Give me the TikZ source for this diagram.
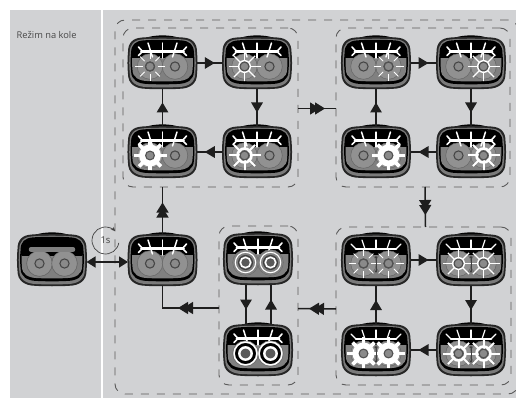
\documentclass[tikz,border=0pt]{standalone}
\usepackage{fontspec}
\setmainfont{Open Sans}
\usetikzlibrary{arrows.meta,decorations.markings}
\definecolor{panel}{HTML}{D1D2D4}
\definecolor{lampgray}{HTML}{808080}
\definecolor{lensgray}{HTML}{919191}
\definecolor{dashgray}{HTML}{5A5A5A}
\definecolor{inkdark}{HTML}{1E1E1E}
\tikzset{
  lampnode/.style={rectangle,minimum width=69pt,minimum height=52pt,inner sep=0pt,outer sep=0pt},
  framebox/.style={draw=dashgray,line width=.9pt,dash pattern=on 8pt off 8pt,rounded corners=10pt,inner sep=0pt,outer sep=0pt},
  conn/.style={draw=inkdark,line width=1.5pt},
  singlehead/.style={conn,postaction={decorate},decoration={markings,mark=at position .5 with {\arrow[xshift=5pt,inkdark]{Triangle[length=10pt,width=11.5pt]}}}},
  doublehead/.style={conn,postaction={decorate},decoration={markings,
     mark=at position #1 with {\arrow[xshift=3pt,inkdark]{Triangle[length=10pt,width=12pt]}},
     mark=at position #1 with {\arrow[xshift=8pt,inkdark]{Triangle[length=10pt,width=12pt]}}}},
  doublehead/.default=.5,
  rim/.style={white,line cap=round}
}
\newcommand{\lampshape}{(-20,-25.5) .. controls (-10,-26.3) and (10,-26.3) .. (20,-25.5)
  .. controls (30,-25) and (34.5,-20) .. (34.5,-11) .. controls (35.2,-4) and (35.2,4) .. (34.5,11)
  .. controls (34.5,21) and (27,25.6) .. (17,25.8) .. controls (8,26.4) and (-8,26.4) .. (-17,25.8)
  .. controls (-27,25.6) and (-34.5,21) .. (-34.5,11) .. controls (-35.2,4) and (-35.2,-4) .. (-34.5,-11)
  .. controls (-34.5,-20) and (-30,-25) .. (-20,-25.5) -- cycle}
\newcommand{\lenses}{%
  \foreach \lx in {-12.5,12.5}{\draw[black!60,line width=.5pt,fill=lensgray] (\lx,3.5) circle (12.8);}
  \foreach \lx in {-12.5,12.5}{\draw[black!72,line width=1.1pt,fill=lensgray!95!black] (\lx,3.5) circle (4.6);}}
% #1 name, #2 x, #3 y, #4 interior drawing
\newcommand{\lamp}[4]{%
  \node[lampnode] (#1) at (#2,#3) {};
  \begin{scope}[shift={(#2,#3)}]
    \fill[black] (-17,-25) .. controls (-8,-28.5) and (8,-28.5) .. (17,-25) -- cycle;
    \fill[black!85] \lampshape;
    \begin{scope}[xscale=.95,yscale=.93]\fill[black!52] \lampshape;\end{scope}
    \begin{scope}[shift={(0,-1)},xscale=.91,yscale=.85]\fill[black] \lampshape;\end{scope}
    \begin{scope}[shift={(0,-1.8)},xscale=.87,yscale=.77]\clip \lampshape;
      \begin{scope}[xscale=1.14943,yscale=1.2987,shift={(0,1.8)}]
        \fill[lampgray] (-40,-5) rectangle (40,30);
        \fill[black] (-40,-30) rectangle (40,-5);
        \lenses
        #4
      \end{scope}
    \end{scope}
  \end{scope}}
\newcommand{\fishbone}{%
  \draw[rim,line width=2.6pt] (-21,-11.5) -- (21,-11.5);
  \draw[rim,line width=1.2pt] (0,-20) -- (0,-5);
  \draw[rim,line width=1.5pt] (-14.5,-20) -- (-10,-6) (14.5,-20) -- (10,-6);
  \draw[rim,line width=1.6pt] (-24,-16) -- (-20,-11.5) -- (-24,-7.5) (24,-16) -- (20,-11.5) -- (24,-7.5);}
\newcommand{\rake}{%
  \draw[rim,line width=2.6pt] (-20,-11) -- (20,-11);
  \draw[rim,line width=1.2pt] (0,-20) -- (0,-11);
  \draw[rim,line width=1.2pt] (-14,-20) -- (-11,-11) (14,-20) -- (11,-11);
  \draw[rim,line width=1.2pt] (-25,-16) -- (-20,-11) (25,-16) -- (20,-11);}
\newcommand{\rays}[4]{% x, width, r-in, r-out
  \foreach \ra in {0,90,180,270}{\draw[white,line width=#2pt] ([shift={(\ra:#3)}]#1,3.5) -- ([shift={(\ra:#4)}]#1,3.5);}
  \foreach \ra in {45,135,225,315}{\draw[white,line width=#2pt] ([shift={(\ra:#3)}]#1,3.5) -- ([shift={(\ra:#4-1)}]#1,3.5);}}
\newcommand{\hub}[1]{\draw[black!68,line width=1.1pt,fill=lensgray!95!black] (#1,3.5) circle (4.4);}
\newcommand{\gearA}[1]{\rays{#1}{.8}{7.5}{15}\hub{#1}}
\newcommand{\gearB}[1]{\rays{#1}{1.3}{5}{16}\draw[white,line width=1.4pt] (#1,3.5) circle (5.8);\hub{#1}}
\newcommand{\gearC}[1]{\rays{#1}{2}{5}{16}\draw[white,line width=2.6pt] (#1,3.5) circle (7);\hub{#1}}
\newcommand{\gearD}[1]{\rays{#1}{3.6}{5}{16.5}\fill[white] (#1,3.5) circle (11);\hub{#1}}
\newcommand{\centerarrow}{\draw[black!75,line width=.8pt,{Latex[length=2.5pt,width=3pt]}-{Latex[length=2.5pt,width=3pt]}] (0,-4.5) -- (0,13);}
\newcommand{\ringsA}{\foreach \lx in {-12.5,12.5}{\fill[lampgray] (\lx,3.5) circle (12.5);\draw[white,line width=1.1pt,fill=black!50] (\lx,3.5) circle (10.2);\draw[black!75,line width=1pt,fill=lampgray!70!black] (\lx,3.5) circle (7);\draw[white,line width=1.6pt,fill=black!65] (\lx,3.5) circle (5.2);}}
\newcommand{\ringsB}{\foreach \lx in {-12.5,12.5}{\fill[lampgray] (\lx,3.5) circle (12.5);\draw[white,line width=1.6pt,fill=black] (\lx,3.5) circle (11.4);\draw[white,line width=2.4pt,fill=black!65] (\lx,3.5) circle (6.2);}}
\begin{document}
\begin{tikzpicture}[x=1pt,y=-1pt]
\useasboundingbox (0,0) rectangle (516,398);
\fill[white] (0,0) rectangle (516,398);
\fill[panel] (9.5,10) rectangle (516,398);
\fill[white] (101,10) rectangle (103,398);
\node[text=black!72,font=\fontsize{9.3}{11}\selectfont,anchor=west,inner sep=0pt] (title) at (16.5,35) {Režim na kole};
% frames
\node[framebox,minimum width=403pt,minimum height=374pt] (outer) at (316.5,207) {};
\node[framebox,minimum width=175pt,minimum height=159pt] (gA) at (210.5,107.5) {};
\node[framebox,minimum width=174pt,minimum height=159pt] (gB) at (423,107.5) {};
\node[framebox,minimum width=175pt,minimum height=158pt] (gC) at (423.5,306) {};
\node[framebox,minimum width=79pt,minimum height=159pt] (gD) at (258.5,305.5) {};
% lamps
\lamp{off}{52}{260}{\fill[black] (-40,-30) rectangle (40,-4.5);\lenses\draw[black!50,line width=4.5pt,line cap=round] (-21,-10.5) -- (21,-10.5);}
\lamp{base}{162.5}{260}{\fishbone}
\lamp{aa}{162.5}{63}{\fishbone\gearA{-12.5}}
\lamp{ab}{257}{63}{\fishbone\gearB{-12.5}}
\lamp{ac}{257}{152}{\fishbone\gearC{-12.5}}
\lamp{ad}{162.5}{152}{\fishbone\gearD{-12.5}}
\lamp{ba}{376}{63}{\fishbone\gearA{12.5}}
\lamp{bb}{471}{63}{\fishbone\gearB{12.5}}
\lamp{bc}{471}{152}{\fishbone\gearC{12.5}}
\lamp{bd}{376}{152}{\fishbone\gearD{12.5}}
\lamp{ca}{376}{260}{\rake\gearA{-12.5}\gearA{12.5}\centerarrow}
\lamp{cb}{471}{260}{\rake\gearB{-12.5}\gearB{12.5}\centerarrow}
\lamp{cc}{471}{350}{\rake\gearC{-12.5}\gearC{12.5}\centerarrow}
\lamp{cd}{376}{350}{\rake\gearD{-12.5}\gearD{12.5}\centerarrow}
\lamp{da}{258}{259}{\fishbone\ringsA}
\lamp{db}{258}{350}{\fishbone\ringsB}
% connectors inside groups
\foreach \p/\q in {aa/ab,ba/bb,ca/cb}{\path[singlehead] (\p.east) -- (\q.west);}
\foreach \p/\q in {ab/ac,bb/bc,cb/cc}{\path[singlehead] (\p.south) -- (\q.north);}
\foreach \p/\q in {ac/ad,bc/bd,cc/cd}{\path[singlehead] (\p.west) -- (\q.east);}
\foreach \p/\q in {ad/aa,bd/ba,cd/ca}{\path[singlehead] (\p.north) -- (\q.south);}
\path[singlehead] ([xshift=-12pt]da.south) -- ([xshift=-12pt]db.north);
\path[singlehead] ([xshift=13pt]db.north) -- ([xshift=13pt]da.south);
% connectors between groups
\path[doublehead] ([yshift=-1pt]gA.east) -- ([yshift=-1pt]gB.west);
\path[doublehead] ([xshift=2pt]gB.south) -- ([xshift=2pt]gC.north);
\path[doublehead] ([yshift=-3pt]gC.west) -- ([yshift=-3pt]gD.east);
\coordinate (bend) at (base.south |- 0,308);
\path[doublehead=.42] (gD.west |- bend) -- (bend) -- (base.south);
\path[doublehead] (base.north) -- (base.north |- gA.south);
% mode-hold connector and clock
\draw[conn,{Triangle[length=9pt,width=11pt]}-{Triangle[length=9pt,width=11pt]}] ([yshift=-2pt]off.east) -- ([yshift=-2pt]base.west);
\node[text=black!75,font=\fontsize{9.5}{11}\selectfont,inner sep=0pt] (clock) at (105.5,240.5) {1s};
\draw[black!75,line width=.7pt,-{Stealth[length=4pt,width=4pt]}] ([shift={(10:13.5)}]clock.center) arc (10:315:13.5);
\end{tikzpicture}
\end{document}
